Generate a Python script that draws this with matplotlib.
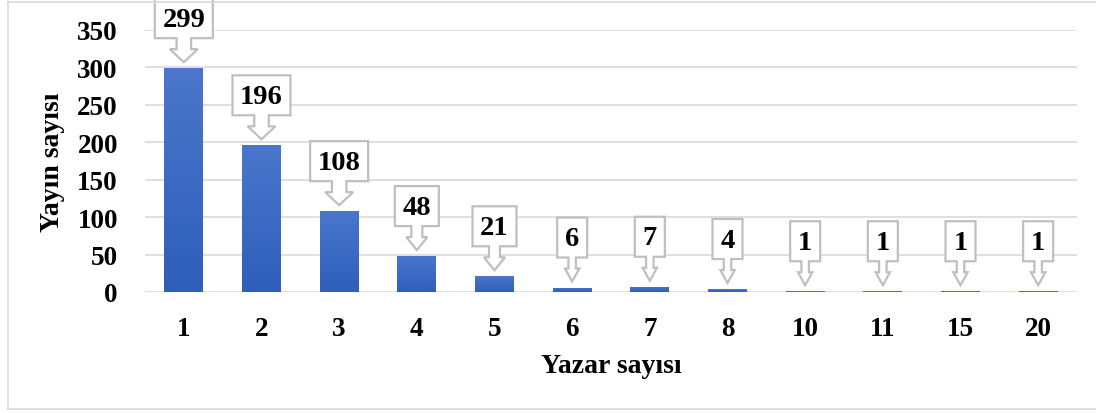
import numpy as np
import matplotlib
matplotlib.use("Agg")
import matplotlib.pyplot as plt
from matplotlib.patches import Polygon
from matplotlib.lines import Line2D
import matplotlib.transforms as mtransforms
from matplotlib.colors import LinearSegmentedColormap

# ---- data ----
categories = ["1", "2", "3", "4", "5", "6", "7", "8", "10", "11", "15", "20"]
values = [299, 196, 108, 48, 21, 6, 7, 4, 1, 1, 1, 1]
yticks = [0, 50, 100, 150, 200, 250, 300, 350]
xlabel = "Yazar sayısı"
ylabel = "Yayın sayısı"

W, H = 1096, 414
plt.rcParams['font.family'] = ['Liberation Serif', 'DejaVu Serif']
plt.rcParams['font.weight'] = 'bold'

fig = plt.figure(figsize=(W / 100, H / 100), dpi=100)
ax = fig.add_axes([145 / W, 1 - 293 / H, (1077 - 145) / W, (293 - 31) / H])

x = np.arange(len(categories))
bars = ax.bar(x, values, width=0.5, color="#3D6AC2", zorder=2)

# gradient fill within each bar
cmap = LinearSegmentedColormap.from_list("bg", ["#2F5EBB", "#4A77CB"])
grad = np.linspace(0, 1, 256).reshape(-1, 1)
for b in bars:
    bx, by = b.get_x(), b.get_y()
    bw, bh = b.get_width(), b.get_height()
    im = ax.imshow(grad, cmap=cmap, origin="lower", aspect="auto",
                   extent=[bx, bx + bw, by, by + bh], zorder=2.1)
    im.set_clip_path(b)

ax.set_xlim(-0.5, len(categories) - 0.5)
ax.set_ylim(0, 350)
ax.set_yticks(yticks)
ax.set_xticks(x)
ax.set_xticklabels(categories)
ax.yaxis.grid(True, color="#D9D9D9", linewidth=1.2, zorder=0)
ax.set_axisbelow(True)
for s in ax.spines.values():
    s.set_visible(False)
ax.tick_params(axis="both", length=0, labelsize=19.5)
ax.tick_params(axis="y", pad=19.5)
ax.tick_params(axis="x", pad=17)
ax.set_xlabel(xlabel, fontsize=20, fontweight="bold", labelpad=9)
ax.set_ylabel(ylabel, fontsize=20, fontweight="bold")
ax.yaxis.set_label_coords(-0.086, 0.5)

# callouts (pixel geometry relative to bar top)
gap, arrow_len, head_len, box_h, pad = 6, 24, 13, 40, 8
for xi, v in zip(x, values):
    label = str(v)
    bw = 14 * len(label) + 2 * pad
    hw = 0.48 * bw / 2
    sw = 0.25 * bw / 2
    y_tip = gap
    y_head = gap + head_len
    y_bot = gap + arrow_len
    y_top = y_bot + box_h
    verts = [(0, y_tip), (hw, y_head), (sw, y_head), (sw, y_bot), (bw / 2, y_bot),
             (bw / 2, y_top), (-bw / 2, y_top), (-bw / 2, y_bot), (-sw, y_bot),
             (-sw, y_head), (-hw, y_head)]
    tr = mtransforms.Affine2D() + mtransforms.ScaledTranslation(xi, v, ax.transData)
    poly = Polygon(verts, closed=True, facecolor="white", edgecolor="#BFBFBF",
                   linewidth=1.6, transform=tr, clip_on=False, zorder=5)
    ax.add_patch(poly)
    ax.text(0, (y_bot + y_top) / 2 - 1, label, transform=tr, ha="center", va="center",
            fontsize=20.5, fontweight="bold", zorder=6, clip_on=False)

# outer chart border
bc = "#D9D9D9"
fig.add_artist(Line2D([8 / W, 8 / W], [1 - 3 / H, 1 - 410 / H], color=bc, lw=1.2))
fig.add_artist(Line2D([8 / W, 1], [1 - 3 / H, 1 - 3 / H], color=bc, lw=1.2))
fig.add_artist(Line2D([8 / W, 1], [1 - 410 / H, 1 - 410 / H], color=bc, lw=1.2))

fig.savefig("out.png", dpi=100, facecolor="white")
